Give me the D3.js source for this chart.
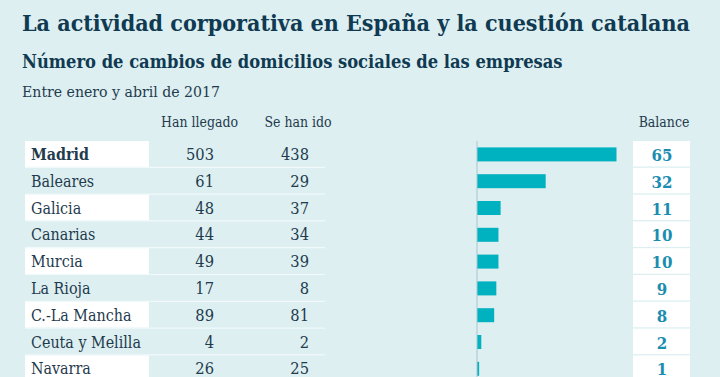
<!DOCTYPE html>
<html><head><meta charset="utf-8">
<script src="https://d3js.org/d3.v7.min.js"></script>
<style>
html,body{margin:0;padding:0;background:#ddeff1;}
svg{display:block;font-family:"DejaVu Serif",serif;font-stretch:semi-condensed;}
</style></head>
<body>
<svg id="c" width="720" height="377"></svg>
<script>
const regions = ["Madrid","Baleares","Galicia","Canarias","Murcia","La Rioja","C.-La Mancha","Ceuta y Melilla","Navarra"];
const arrived = [503,61,48,44,49,17,89,4,26];
const left = [438,29,37,34,39,8,81,2,25];
const balance = [65,32,11,10,10,9,8,2,1];
const headers = ["Han llegado","Se han ido","Balance"];
const title = "La actividad corporativa en España y la cuestión catalana";
const subtitle = "Número de cambios de domicilios sociales de las empresas";
const note = "Entre enero y abril de 2017";

const svg = d3.select("#c");
const navy = "#0f3a52", ink = "#1f3b4d", bar = "#00b1bf", bal = "#1b8db0";
svg.append("rect").attr("width",720).attr("height",377).attr("fill","#ddeff1");

function fit(sel, w){
  const n = sel.node();
  let fs = parseFloat(sel.attr("font-size"));
  const cur = n.getComputedTextLength();
  sel.attr("font-size", (fs*w/cur).toFixed(2));
  return fs*w/cur;
}
// measure a sample string to find a font size giving target width
function sizeFor(str, w, weight){
  const t = svg.append("text").attr("font-size",20).attr("font-weight",weight||"normal").text(str);
  const s = 20*w/t.node().getComputedTextLength();
  t.remove();
  return s;
}
fit(svg.append("text").attr("x",22).attr("y",31).attr("font-size",23).attr("font-weight","bold").attr("fill",navy).text(title),668);
fit(svg.append("text").attr("x",22).attr("y",68).attr("font-size",18).attr("font-weight","bold").attr("fill",navy).text(subtitle),541);
fit(svg.append("text").attr("x",22).attr("y",97).attr("font-size",15).attr("fill",ink).text(note),198);

const nameFs = sizeFor("Ceuta y Melilla",110);
const numFs = sizeFor("503",28);
const balFs = sizeFor("65",21,"bold");
const headFs = sizeFor(headers[0],77);

const y = d3.scaleBand().domain(regions).range([141, 141+26.8*regions.length]).paddingInner(0);
const x = d3.scaleLinear().domain([0,65]).range([477, 616.5]);

// headers
svg.append("text").attr("x",199.5).attr("y",127).attr("text-anchor","middle").attr("font-size",headFs).attr("fill",ink).text(headers[0]);
svg.append("text").attr("x",298).attr("y",127).attr("text-anchor","middle").attr("font-size",headFs).attr("fill",ink).text(headers[1]);
svg.append("text").attr("x",664).attr("y",127).attr("text-anchor","middle").attr("font-size",headFs).attr("fill",ink).text(headers[2]);

const rows = svg.append("g").selectAll("g").data(regions).join("g");
rows.filter((d,i)=>i%2===0).append("rect")
  .attr("x",25).attr("y",d=>y(d)).attr("width",124).attr("height",y.bandwidth()-1).attr("fill","#ffffff");
rows.filter((d,i)=>i>0).append("line")
  .attr("x1",25).attr("x2",325).attr("y1",d=>y(d)-0.5).attr("y2",d=>y(d)-0.5)
  .attr("stroke","#f2f9fa").attr("stroke-width",1.2);
rows.append("rect").attr("x",633).attr("y",d=>y(d)).attr("width",57).attr("height",y.bandwidth()-1.3).attr("fill","#ffffff");

const cy = d=>y(d)+y.bandwidth()/2+5.5;
rows.append("text").attr("x",31).attr("y",cy).attr("font-size",nameFs).attr("fill",ink)
  .attr("font-weight",(d,i)=>i===0?"bold":"normal").text(d=>d);
rows.append("text").attr("x",214).attr("y",cy).attr("text-anchor","end").attr("font-size",numFs).attr("fill",ink).text((d,i)=>arrived[i]);
rows.append("text").attr("x",309).attr("y",cy).attr("text-anchor","end").attr("font-size",numFs).attr("fill",ink).text((d,i)=>left[i]);
rows.append("text").attr("x",662).attr("y",d=>y(d)+y.bandwidth()/2+6.5).attr("text-anchor","middle").attr("font-size",balFs).attr("font-weight","bold").attr("fill",bal).text((d,i)=>balance[i]);

rows.append("rect").attr("x",x(0)).attr("y",d=>y(d)+y.bandwidth()/2-7).attr("height",14)
  .attr("width",(d,i)=>x(balance[i])-x(0)).attr("fill",bar);
svg.append("line").attr("x1",x(0)).attr("x2",x(0)).attr("y1",141).attr("y2",377).attr("stroke","#a9c6cf").attr("stroke-width",1);
</script>
</body></html>
